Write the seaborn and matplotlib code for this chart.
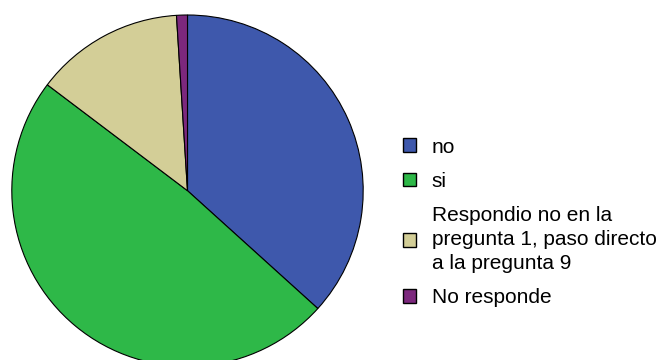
import matplotlib
matplotlib.use("Agg")
import matplotlib.pyplot as plt
from matplotlib.patches import Patch
import seaborn as sns

# Survey answers (percent of respondents)
categories = [
    "no",
    "si",
    "Respondio no en la\npregunta 1, paso directo\na la pregunta 9",
    "No responde",
]
values = [36.7, 48.6, 13.7, 1.0]
colors = ["#3E58AC", "#2EB848", "#D3CE97", "#7C287D"]

sns.set_theme(style="white")
plt.rcParams["font.family"] = ["Liberation Sans", "DejaVu Sans"]

W, H = 672, 360
fig = plt.figure(figsize=(W / 100, H / 100), dpi=100)
fig.patch.set_facecolor("white")

# Pie axes: square box in pixels, centred at (187.5, 190.7) from top-left
cx, cy, r = 187.5, 190.7, 175.7
ax = fig.add_axes([(cx - r) / W, (H - cy - r) / H, 2 * r / W, 2 * r / H])
ax.pie(
    values,
    colors=colors,
    startangle=90,
    counterclock=False,
    radius=1,
    wedgeprops=dict(edgecolor="black", linewidth=0.8),
)
ax.set_xlim(-1, 1)
ax.set_ylim(-1, 1)
ax.set_aspect("auto")
ax.axis("off")

handles = [Patch(facecolor=c, edgecolor="black", linewidth=1.0) for c in colors]
leg = fig.legend(
    handles,
    categories,
    loc="center left",
    bbox_to_anchor=(403 / W, (H - 222.5) / H),
    frameon=False,
    fontsize=15,
    handlelength=0.62,
    handleheight=0.62,
    handletextpad=0.75,
    labelspacing=0.74,
    borderpad=0,
    borderaxespad=0,
    labelcolor="black",
)
for t in leg.get_texts():
    t.set_linespacing(1.32)

fig.savefig("out.png", dpi=100, facecolor="white")
